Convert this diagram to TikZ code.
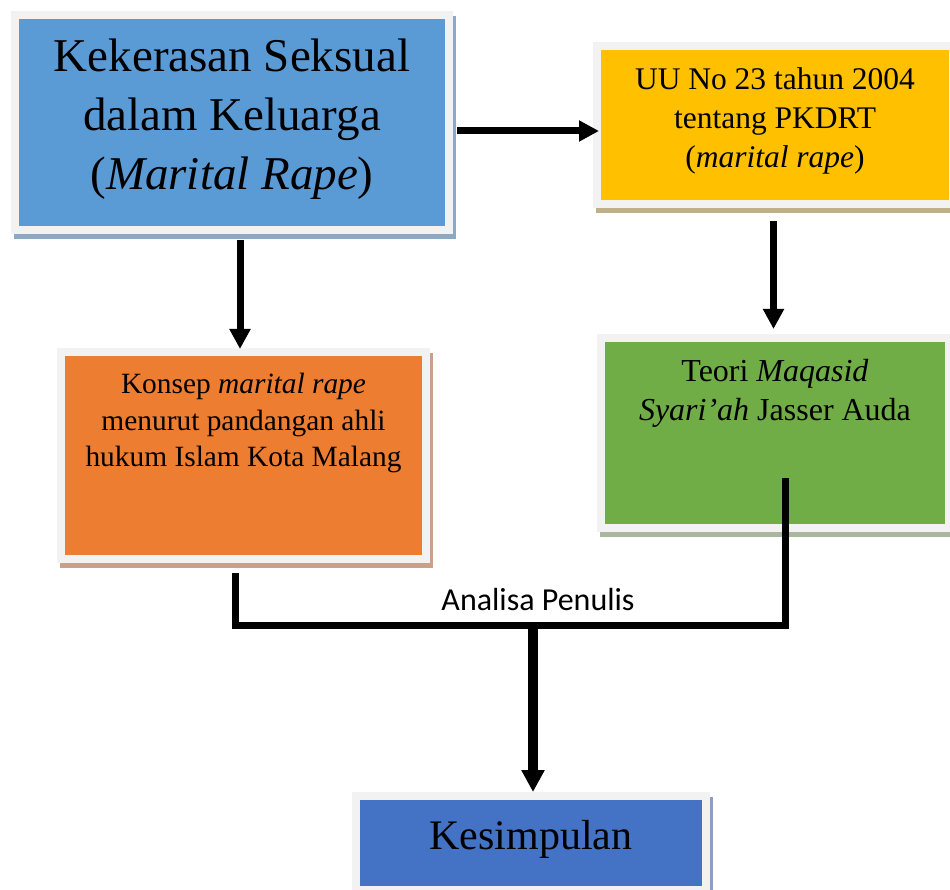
\documentclass[tikz,border=0pt]{standalone}
\usepackage{fontspec}
\setmainfont{Liberation Serif}
\newfontfamily\calibri{Carlito}
\usetikzlibrary{arrows.meta,backgrounds}
\definecolor{boxblue}{HTML}{5B9BD5}
\definecolor{boxyellow}{HTML}{FFC000}
\definecolor{boxorange}{HTML}{ED7D31}
\definecolor{boxgreen}{HTML}{70AD47}
\definecolor{boxnavy}{HTML}{4472C4}
\definecolor{framegrey}{HTML}{F2F2F2}
\definecolor{shadeblue}{HTML}{8EA8C3}
\definecolor{shadeyellow}{HTML}{C0B08A}
\definecolor{shadeorange}{HTML}{C9A18A}
\definecolor{shadegreen}{HTML}{A9B7A0}
\definecolor{shadenavy}{HTML}{8E9EC0}
\newcommand{\boxtext}[4]{\parbox[c][#1][t]{#2}{\centering\rule{0pt}{#3}#4}}
\begin{document}
\begin{tikzpicture}[x=1pt,y=-1pt,
  flowbox/.style={draw=framegrey,line width=8pt,inner sep=0pt,outer sep=0pt},
  arrow/.style={line width=7pt,-{Triangle[width=20pt,length=20pt]}},
  link/.style={line width=7pt},
  bigarrow/.style={line width=9.5pt,-{Triangle[width=22pt,length=22pt]}}]
\useasboundingbox (0,0) rectangle (950,890);
\node[flowbox,fill=boxblue,font=\fontsize{47}{59}\selectfont] (kekerasan) at (232,122.5)
  {\boxtext{215pt}{434pt}{57pt}{Kekerasan Seksual\\ dalam Keluarga\\ (\textit{Marital Rape})}};
\node[flowbox,fill=boxyellow,font=\fontsize{31.5}{38.8}\selectfont] (uu) at (775,125)
  {\boxtext{158pt}{356pt}{43.8pt}{UU No 23 tahun 2004\\ tentang PKDRT\\ (\textit{marital rape})}};
\node[flowbox,fill=boxorange,font=\fontsize{29.4}{36.7}\selectfont] (konsep) at (243.5,455.5)
  {\boxtext{207pt}{365pt}{41.3pt}{Konsep \textit{marital rape}\\ menurut pandangan ahli\\ hukum Islam Kota Malang}};
\node[flowbox,fill=boxgreen,font=\fontsize{32}{38.3}\selectfont] (teori) at (775,433)
  {\boxtext{190pt}{348pt}{43.7pt}{Teori \textit{Maqasid}\\ \textit{Syari’ah} Jasser Auda}};
\node[flowbox,fill=boxnavy,font=\fontsize{42}{50}\selectfont] (kesimpulan) at (531,843)
  {\boxtext{94pt}{350pt}{53.3pt}{Kesimpulan}};
\node[font=\calibri\fontsize{32}{38}\selectfont,anchor=base] (analisa) at (538,610) {Analisa Penulis};
\begin{scope}[on background layer]
\foreach \b/\c in {kekerasan/shadeblue,uu/shadeyellow,konsep/shadeorange,teori/shadegreen,kesimpulan/shadenavy}
  \fill[\c] ([shift={(-1pt,-1pt)}]\b.north west) rectangle ([shift={(7pt,-9pt)}]\b.south east);
\end{scope}
\draw[arrow,shorten >=-2pt] ([shift={(8pt,-8.5pt)}]kekerasan.east) coordinate (a1) -- (a1 -| uu.west);
\draw[arrow,shorten >=3pt] ([shift={(8pt,-10pt)}]kekerasan.south) coordinate (a2) -- (a2 |- konsep.north);
\draw[arrow,shorten >=9pt] ([shift={(-1.5pt,-17pt)}]uu.south) coordinate (a3) -- (a3 |- teori.north);
\coordinate (join) at (533,625.5);
\draw[link] ([shift={(-8pt,-14pt)}]konsep.south) |- (join) -| ([shift={(10pt,50pt)}]teori.south);
\draw[bigarrow,shorten >=4pt] (join) -- (join |- kesimpulan.north);
\end{tikzpicture}
\end{document}
